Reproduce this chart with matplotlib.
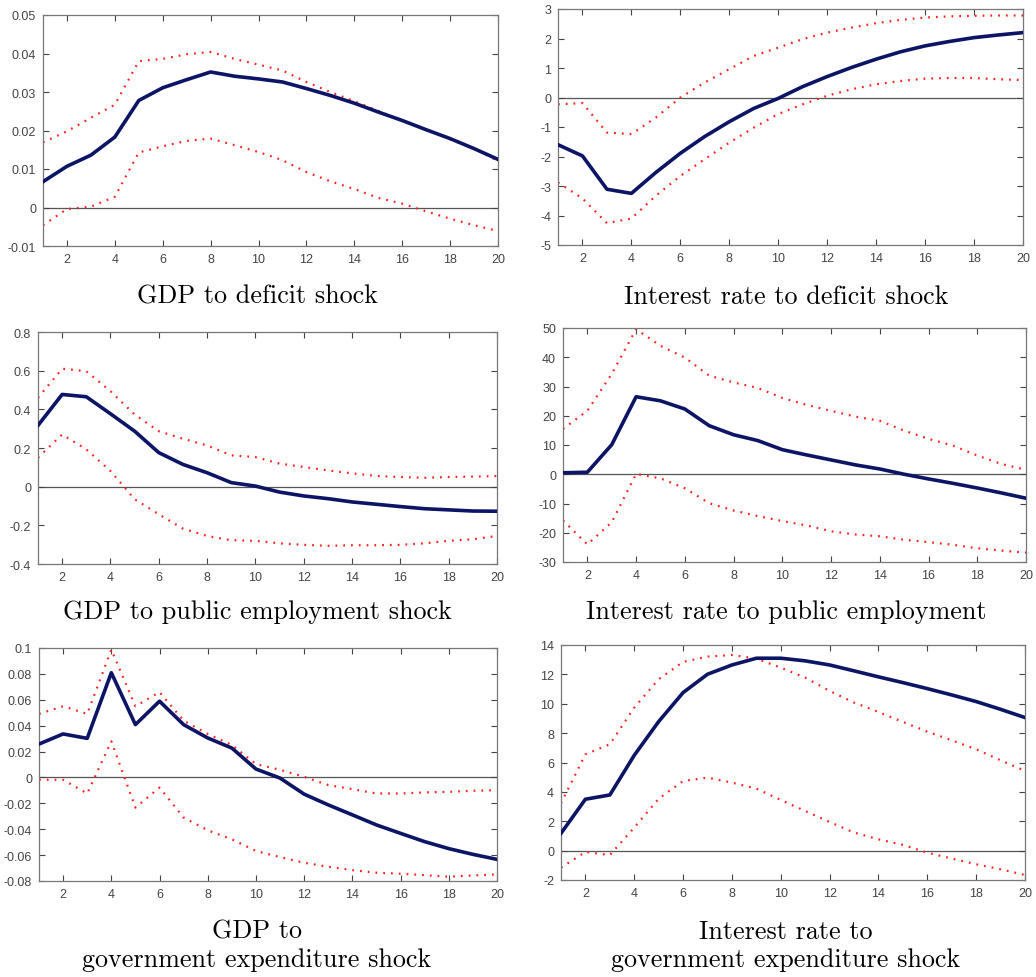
import numpy as np
import matplotlib
matplotlib.use('Agg')
import matplotlib.pyplot as plt

# horizons 1..20
horizon = np.arange(1, 21)

# GDP to deficit shock
gdp_def_mean = [0.0067, 0.0107, 0.0136, 0.0183, 0.0278, 0.0311, 0.0332, 0.0352, 0.0341, 0.0334,
                0.0326, 0.0309, 0.0291, 0.0271, 0.0248, 0.0226, 0.0202, 0.0179, 0.0153, 0.0125]
gdp_def_up = [0.0169, 0.0198, 0.0233, 0.0267, 0.0380, 0.0386, 0.0398, 0.0404, 0.0386, 0.0371,
              0.0356, 0.0326, 0.0300, 0.0276, 0.0251, 0.0226, 0.0202, 0.0177, 0.0153, 0.0121]
gdp_def_lo = [-0.0046, -0.0004, 0.0002, 0.0028, 0.0143, 0.0159, 0.0173, 0.0179, 0.0162, 0.0144,
              0.0123, 0.0092, 0.0068, 0.0048, 0.0025, 0.0010, -0.0010, -0.0029, -0.0046, -0.0061]

# interest rate to deficit shock
ir_def_mean = [-1.60, -1.98, -3.11, -3.25, -2.54, -1.89, -1.32, -0.82, -0.37, -0.03,
               0.37, 0.71, 1.02, 1.30, 1.55, 1.75, 1.90, 2.03, 2.12, 2.20]
ir_def_up = [-0.23, -0.19, -1.19, -1.24, -0.68, 0.00, 0.51, 0.96, 1.41, 1.69,
             1.98, 2.20, 2.37, 2.52, 2.63, 2.71, 2.75, 2.77, 2.78, 2.78]
ir_def_lo = [-2.88, -3.42, -4.26, -4.10, -3.33, -2.66, -2.09, -1.53, -1.02, -0.56,
             -0.23, 0.06, 0.28, 0.45, 0.56, 0.64, 0.66, 0.66, 0.62, 0.59]

# GDP to public employment shock
gdp_emp_mean = [0.317, 0.477, 0.465, 0.377, 0.287, 0.176, 0.115, 0.072, 0.021, 0.003,
                -0.028, -0.048, -0.062, -0.079, -0.091, -0.103, -0.114, -0.120, -0.126, -0.127]
gdp_emp_up = [0.460, 0.610, 0.597, 0.494, 0.373, 0.287, 0.248, 0.213, 0.162, 0.153,
              0.119, 0.102, 0.084, 0.069, 0.055, 0.050, 0.046, 0.050, 0.052, 0.055]
gdp_emp_lo = [0.150, 0.270, 0.193, 0.081, -0.065, -0.143, -0.217, -0.255, -0.277, -0.280,
              -0.293, -0.301, -0.306, -0.303, -0.303, -0.301, -0.293, -0.280, -0.272, -0.255]

# interest rate to public employment
ir_emp_mean = [0.5, 0.7, 10.1, 26.5, 25.1, 22.3, 16.6, 13.5, 11.5, 8.4,
               6.6, 4.9, 3.2, 1.8, 0.0, -1.6, -3.1, -4.7, -6.4, -8.2]
ir_emp_up = [15.5, 21.7, 34.3, 49.6, 43.9, 39.9, 33.7, 31.4, 29.5, 26.1,
             23.7, 21.7, 19.7, 18.3, 14.9, 12.1, 9.8, 6.4, 3.5, 1.5]
ir_emp_lo = [-15.8, -24.0, -16.4, 0.1, -1.4, -4.8, -9.9, -12.4, -14.3, -16.0,
             -17.5, -19.5, -20.6, -21.2, -22.4, -23.2, -24.1, -25.3, -26.1, -26.8]

# GDP to government expenditure shock
gdp_gov_mean = [0.0258, 0.0336, 0.0302, 0.0809, 0.0408, 0.0589, 0.0408, 0.0305, 0.0227, 0.0065,
                -0.0005, -0.0129, -0.0212, -0.0289, -0.0367, -0.0432, -0.0496, -0.0550, -0.0594, -0.0633]
gdp_gov_up = [0.0491, 0.0550, 0.0491, 0.0987, 0.0550, 0.0659, 0.0439, 0.0336, 0.0251, 0.0103,
              0.0059, 0.0005, -0.0059, -0.0090, -0.0124, -0.0124, -0.0116, -0.0111, -0.0103, -0.0098]
gdp_gov_lo = [-0.0018, -0.0018, -0.0124, 0.0279, -0.0233, -0.0078, -0.0310, -0.0408, -0.0478, -0.0568,
              -0.0615, -0.0659, -0.0690, -0.0716, -0.0736, -0.0744, -0.0755, -0.0767, -0.0757, -0.0749]

# interest rate to government expenditure shock
ir_gov_mean = [1.18, 3.50, 3.79, 6.49, 8.79, 10.76, 12.01, 12.64, 13.10, 13.10,
               12.92, 12.64, 12.24, 11.83, 11.44, 11.03, 10.60, 10.15, 9.62, 9.06]
ir_gov_up = [3.22, 6.56, 7.24, 9.74, 11.67, 12.85, 13.21, 13.32, 13.07, 12.46,
             11.78, 10.87, 10.08, 9.44, 8.76, 8.10, 7.51, 6.90, 6.15, 5.43]
ir_gov_lo = [-1.16, -0.09, -0.30, 1.57, 3.54, 4.74, 4.97, 4.63, 4.22, 3.45,
             2.70, 1.95, 1.23, 0.77, 0.39, -0.14, -0.54, -0.93, -1.27, -1.66]

titles = ['GDP to deficit shock', 'Interest rate to deficit shock',
          'GDP to public employment shock', 'Interest rate to public employment',
          'GDP to\ngovernment expenditure shock', 'Interest rate to\ngovernment expenditure shock']

W, H = 1036, 978
fig = plt.figure(figsize=(W / 100, H / 100), dpi=100)

# panel boxes in pixels: left, right, top, bottom
boxes = [(43, 498, 16, 247), (558, 1023, 10, 246),
         (38, 497, 333, 565), (563, 1026, 329, 563),
         (39, 497, 649, 882), (561, 1025, 646, 881)]

panels = [
    (gdp_def_mean, gdp_def_up, gdp_def_lo, (-0.01, 0.05), np.arange(-0.01, 0.051, 0.01)),
    (ir_def_mean, ir_def_up, ir_def_lo, (-5, 3), np.arange(-5, 4, 1)),
    (gdp_emp_mean, gdp_emp_up, gdp_emp_lo, (-0.4, 0.8), np.arange(-0.4, 0.81, 0.2)),
    (ir_emp_mean, ir_emp_up, ir_emp_lo, (-30, 50), np.arange(-30, 51, 10)),
    (gdp_gov_mean, gdp_gov_up, gdp_gov_lo, (-0.08, 0.1), np.arange(-0.08, 0.101, 0.02)),
    (ir_gov_mean, ir_gov_up, ir_gov_lo, (-2, 14), np.arange(-2, 15, 2)),
]

for (l, r, t, b), (mean, up, lo, ylim, yt) in zip(boxes, panels):
    ax = fig.add_axes([l / W, 1 - b / H, (r - l) / W, (b - t) / H])
    ax.axhline(0, color='#555555', lw=0.9, zorder=1)
    ax.plot(horizon, up, color='#ff2020', lw=1.6, ls=(0, (0.8, 2.7)), zorder=2)
    ax.plot(horizon, lo, color='#ff2020', lw=1.6, ls=(0, (0.8, 2.7)), zorder=2)
    ax.plot(horizon, mean, color='#0c1466', lw=2.6, zorder=3)
    ax.set_xlim(1, 20)
    ax.set_ylim(*ylim)
    ax.set_xticks(range(2, 21, 2))
    ax.set_yticks(yt)
    ax.set_yticklabels(['%g' % round(v, 4) for v in yt])
    ax.tick_params(direction='in', top=True, right=True, length=4, width=0.8,
                   colors='#444444', labelsize=9, pad=5)
    for lab in ax.get_xticklabels() + ax.get_yticklabels():
        lab.set_family('Liberation Sans')
    for s in ax.spines.values():
        s.set_color('#777777')
        s.set_linewidth(0.9)

# panel captions
title_pos = [(257, 297), (786, 297), (257, 612), (786, 612), (257, 946), (786, 946)]
for (x, y), txt in zip(title_pos, titles):
    fig.text(x / W, 1 - y / H, txt, ha='center', va='center', family='cmr10',
             fontsize=18.8, linespacing=1.25)

fig.savefig('out.png', dpi=100)
